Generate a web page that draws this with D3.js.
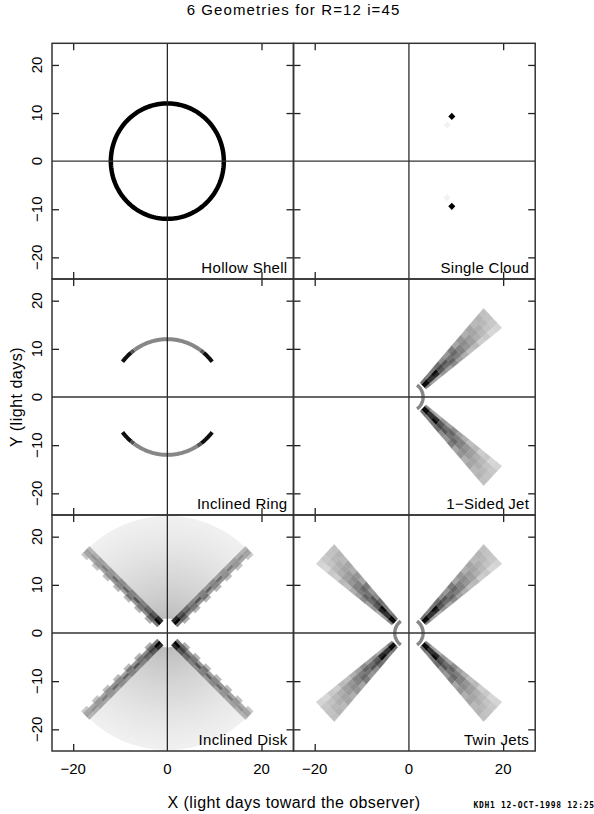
<!DOCTYPE html>
<html><head><meta charset="utf-8">
<script src="https://cdn.jsdelivr.net/npm/d3@7"></script>
<style>
body{margin:0;background:#fff}
svg{display:block}
text{font-family:"Liberation Sans",Arial,sans-serif;fill:#000}
</style>
</head><body>
<svg id="c" width="594" height="814"></svg>
<script>
// ---------------- data ----------------
const title = "6 Geometries for R=12 i=45";
const panelNames = ["Hollow Shell", "Single Cloud", "Inclined Ring", "1\u2212Sided Jet", "Inclined Disk", "Twin Jets"];
const xTitle = "X (light days toward the observer)";
const yTitle = "Y (light days)";
const footer = "KDH1 12-OCT-1998 12:25";
const xDomain = [-24.5, 26.8];
const yDomain = [-24.5, 24.5];
const xTickValues = [-20, 0, 20];
const yTickValues = [-20, -10, 0, 10, 20];
const xTickMarks = [-20, 20];
const yTickMarks = [-20, -10, 10, 20];

// Hollow shell
const shellRadius = 12;

// Single cloud (x, y, gray level)
const cloudX = [9.1, 9.1, 8.1, 8.1];
const cloudY = [9.3, -9.4, 7.5, -7.6];
const cloudGray = [0, 0, 242, 242];

// Inclined ring: arc segments (degrees) with gray levels
const ringRadius = 12;
const ringStart = [37.5, 50, 54, 126, 130, -142.5, -130, -126, -58, -53];
const ringEnd   = [50, 54, 126, 130, 142.5, -130, -126, -58, -53, -37.5];
const ringGray  = [15, 85, 135, 85, 15, 15, 85, 135, 85, 15];

// Jet: inner gray arc and cone cells (rows along jet, cols across, clockwise side first)
const jetArcRadius = 3;
const jetArcHalfAngle = 55;
const jetArcGray = 135;
const jetBase = [3.0, 2.3];
const jetAngle = 43.6;
const jetLength = 20.4;
const jetHalfWidth = [0.9, 2.8];
const jetGray = [
  [130, 10, 0, 110],
  [160, 50, 40, 130],
  [170, 40, 10, 120],
  [150, 90, 70, 110],
  [160, 110, 85, 140],
  [140, 100, 115, 150],
  [160, 125, 105, 125],
  [175, 130, 130, 165],
  [190, 150, 140, 150],
  [185, 160, 155, 175],
  [205, 175, 165, 165],
  [200, 185, 175, 185],
  [215, 195, 185, 180],
  [212, 200, 195, 192]
];

// Inclined disk: radial fill profile and edge strips (outer col first, null = empty)
const diskInner = 3.0;
const diskOuter = 24.3;
const diskStopRadius = [3, 5, 8, 11, 14, 17, 20, 24.3];
const diskStopGray   = [188, 196, 205, 213, 220, 227, 233, 240];
const diskEdgeAngle = 44.5;
const diskStripStart = 2.4;
const diskStripLength = 22;
const diskStripHalfWidth = 1.2;
const diskStripGray = [
  [null, 120, 0, 40],
  [175, 100, 60, 90],
  [null, 140, 90, 110],
  [180, 120, 110, 130],
  [null, 150, 85, 140],
  [185, 115, 125, 130],
  [null, 160, 100, 150],
  [185, 135, 130, 140],
  [null, 150, 110, 160],
  [190, 140, 145, 150],
  [null, 165, 125, 165],
  [195, 150, 150, 160],
  [null, 170, 145, 175],
  [200, 165, 160, 180]
];

// ---------------- layout ----------------
const svg = d3.select("#c");
const colX = [[52, 293.5], [293.5, 535.2]];
const rowY = [[43.3, 279], [279, 515], [515, 751]];
const TICK = 7;
const gray = g => d3.rgb(g, g, g).toString();
const rad = d => d * Math.PI / 180;

function arcPoints(r, a0, a1) {
  const n = Math.max(8, Math.ceil(Math.abs(a1 - a0) / 2));
  return d3.range(n + 1).map(i => {
    const a = rad(a0 + (a1 - a0) * i / n);
    return [r * Math.cos(a), r * Math.sin(a)];
  });
}

function stripCells(base, angDeg, len, hw0, hw1, grid) {
  const n = grid.length, m = grid[0].length;
  const u = [Math.cos(rad(angDeg)), Math.sin(rad(angDeg))];
  const v = [-u[1], u[0]];
  const w = s => hw0 + (hw1 - hw0) * s / len;
  const P = (s, t) => [base[0] + s * u[0] + t * v[0], base[1] + s * u[1] + t * v[1]];
  const cells = [];
  for (let i = 0; i < n; i++) {
    const s0 = len * i / n, s1 = len * (i + 1) / n;
    const wa = w(s0), wb = w(s1);
    for (let j = 0; j < m; j++) {
      if (grid[i][j] === null) continue;
      const ta0 = -wa + 2 * wa * j / m, ta1 = -wa + 2 * wa * (j + 1) / m;
      const tb0 = -wb + 2 * wb * j / m, tb1 = -wb + 2 * wb * (j + 1) / m;
      cells.push({pts: [P(s0, ta0), P(s0, ta1), P(s1, tb1), P(s1, tb0)], g: grid[i][j]});
    }
  }
  return cells;
}
const mirror = (cells, sx, sy) => cells.map(c => ({pts: c.pts.map(p => [p[0] * sx, p[1] * sy]), g: c.g}));

function drawCells(g, x, y, cells) {
  const line = d3.line().x(p => x(p[0])).y(p => y(p[1]));
  g.append("g").selectAll("path").data(cells).join("path")
    .attr("d", c => line(c.pts) + "Z")
    .attr("fill", c => gray(c.g))
    .attr("stroke", c => gray(c.g))
    .attr("stroke-width", 0.5);
}

function drawArc(g, x, y, r, a0, a1, col, width) {
  const line = d3.line().x(p => x(p[0])).y(p => y(p[1]));
  g.append("path").attr("d", line(arcPoints(r, a0, a1)))
    .attr("fill", "none").attr("stroke", col).attr("stroke-width", width);
}

function jetCells() {
  return stripCells(jetBase, jetAngle, jetLength, jetHalfWidth[0], jetHalfWidth[1], jetGray);
}

const defs = svg.append("defs");

const drawers = [
  // Hollow shell
  (g, x, y) => {
    const line = d3.line().x(p => x(p[0])).y(p => y(p[1]));
    g.append("path").attr("d", line(arcPoints(shellRadius, 0, 360)) + "Z")
      .attr("fill", "none").attr("stroke", "#000").attr("stroke-width", 4.5);
  },
  // Single cloud
  (g, x, y) => {
    const d = 0.75;
    const line = d3.line().x(p => x(p[0])).y(p => y(p[1]));
    g.selectAll(null).data(d3.range(cloudX.length)).join("path")
      .attr("d", i => line([[cloudX[i] - d, cloudY[i]], [cloudX[i], cloudY[i] + d], [cloudX[i] + d, cloudY[i]], [cloudX[i], cloudY[i] - d]]) + "Z")
      .attr("fill", i => gray(cloudGray[i]));
  },
  // Inclined ring
  (g, x, y) => {
    ringStart.forEach((a0, i) => drawArc(g, x, y, ringRadius, a0, ringEnd[i], gray(ringGray[i]), 4));
  },
  // 1-sided jet
  (g, x, y) => {
    drawArc(g, x, y, jetArcRadius, -jetArcHalfAngle, jetArcHalfAngle, gray(jetArcGray), 3.5);
    const c = jetCells();
    drawCells(g, x, y, c);
    drawCells(g, x, y, mirror(c, 1, -1));
  },
  // Inclined disk
  (g, x, y) => {
    const R = x(diskOuter) - x(0);
    const grad = defs.append("radialGradient").attr("id", "diskGrad")
      .attr("gradientUnits", "userSpaceOnUse")
      .attr("cx", x(0)).attr("cy", y(0)).attr("r", R);
    diskStopRadius.forEach((r, i) => {
      grad.append("stop").attr("offset", r / diskOuter).attr("stop-color", gray(diskStopGray[i]));
    });
    const line = d3.line().x(p => x(p[0])).y(p => y(p[1]));
    const sector = arcPoints(diskOuter, diskEdgeAngle, 180 - diskEdgeAngle)
      .concat(arcPoints(diskInner, 180 - diskEdgeAngle, diskEdgeAngle));
    [1, -1].forEach(sy => {
      g.append("path").attr("d", line(sector.map(p => [p[0], p[1] * sy])) + "Z")
        .attr("fill", "url(#diskGrad)");
    });
    const base = [diskStripStart * Math.cos(rad(diskEdgeAngle)), diskStripStart * Math.sin(rad(diskEdgeAngle))];
    const strip = stripCells(base, diskEdgeAngle, diskStripLength, diskStripHalfWidth, diskStripHalfWidth, diskStripGray);
    drawCells(g, x, y, strip);
    drawCells(g, x, y, mirror(strip, -1, 1));
    drawCells(g, x, y, mirror(strip, 1, -1));
    drawCells(g, x, y, mirror(strip, -1, -1));
  },
  // Twin jets
  (g, x, y) => {
    drawArc(g, x, y, jetArcRadius, -jetArcHalfAngle, jetArcHalfAngle, gray(jetArcGray), 3.5);
    drawArc(g, x, y, jetArcRadius, 180 - jetArcHalfAngle, 180 + jetArcHalfAngle, gray(jetArcGray), 3.5);
    const c = jetCells();
    drawCells(g, x, y, c);
    drawCells(g, x, y, mirror(c, 1, -1));
    drawCells(g, x, y, mirror(c, -1, 1));
    drawCells(g, x, y, mirror(c, -1, -1));
  }
];

const fmt = v => v < 0 ? "\u2212" + Math.abs(v) : String(v);

panelNames.forEach((name, k) => {
  const col = k % 2, row = Math.floor(k / 2);
  const x = d3.scaleLinear().domain(xDomain).range(colX[col]);
  const y = d3.scaleLinear().domain(yDomain).range([rowY[row][1], rowY[row][0]]);
  const [x0, x1] = colX[col], [y0, y1] = rowY[row];
  defs.append("clipPath").attr("id", "clip" + k).append("rect")
    .attr("x", x0).attr("y", y0).attr("width", x1 - x0).attr("height", y1 - y0);
  const g = svg.append("g").attr("clip-path", `url(#clip${k})`);
  drawers[k](g, x, y);

  // zero lines
  svg.append("line").attr("x1", x(0)).attr("x2", x(0)).attr("y1", y0).attr("y2", y1)
    .attr("stroke", "#1a1a1a").attr("stroke-width", 1.2);
  svg.append("line").attr("x1", x0).attr("x2", x1).attr("y1", y(0)).attr("y2", y(0))
    .attr("stroke", "#333").attr("stroke-width", 1.4);

  // ticks via d3 axes (inward)
  const axes = [
    [d3.axisBottom(x).tickValues(xTickMarks), `translate(0,${y1})`],
    [d3.axisTop(x).tickValues(xTickMarks), `translate(0,${y0})`],
    [d3.axisLeft(y).tickValues(yTickMarks), `translate(${x0},0)`],
    [d3.axisRight(y).tickValues(yTickMarks), `translate(${x1},0)`]
  ];
  axes.forEach(([ax, tr]) => {
    const a = svg.append("g").attr("transform", tr).call(ax.tickSize(-TICK).tickFormat(""));
    a.select(".domain").remove();
    a.selectAll("line").attr("stroke", "#222").attr("stroke-width", 1.3);
  });

  // frame
  svg.append("rect").attr("x", x0).attr("y", y0).attr("width", x1 - x0).attr("height", y1 - y0)
    .attr("fill", "none").attr("stroke", "#333").attr("stroke-width", 1.5);

  // panel label
  svg.append("text").attr("x", x1 - 6).attr("y", y1 - 6.5).attr("text-anchor", "end")
    .style("font-size", "15px").style("letter-spacing", "0.3px").text(name);

  // y tick labels (left column)
  if (col === 0) {
    yTickValues.forEach(v => {
      svg.append("text").attr("transform", `translate(41.5,${y(v)}) rotate(-90)`)
        .attr("text-anchor", "middle").style("font-size", "15px").text(fmt(v));
    });
  }
  // x tick labels (bottom row)
  if (row === 2) {
    xTickValues.forEach(v => {
      svg.append("text").attr("x", x(v)).attr("y", 773.5).attr("text-anchor", "middle")
        .style("font-size", "15px").text(fmt(v));
    });
  }
});

svg.append("text").attr("x", 293.5).attr("y", 14.5).attr("text-anchor", "middle")
  .style("font-size", "15px").style("letter-spacing", "1.1px").text(title);
svg.append("text").attr("x", 294).attr("y", 808).attr("text-anchor", "middle")
  .style("font-size", "16px").style("letter-spacing", "0.4px").text(xTitle);
svg.append("text").attr("transform", "translate(21.5,397) rotate(-90)").attr("text-anchor", "middle")
  .style("font-size", "16px").style("letter-spacing", "0.5px").text(yTitle);
svg.append("text").attr("x", 473.5).attr("y", 808)
  .style("font-family", "'DejaVu Sans Mono',monospace").style("font-weight", "bold")
  .style("font-size", "8px").style("letter-spacing", "0.7px").text(footer);
</script>
</body></html>
